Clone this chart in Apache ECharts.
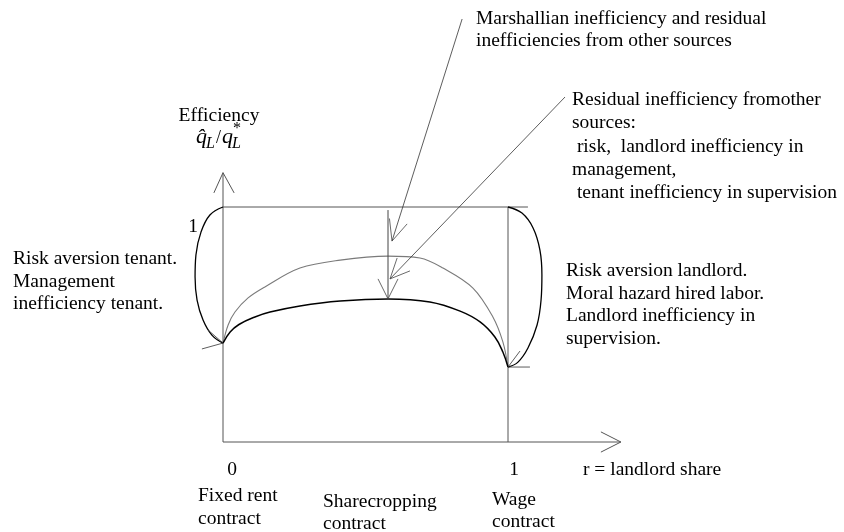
<!DOCTYPE html>
<html>
<head>
<meta charset="utf-8">
<script src="https://cdn.jsdelivr.net/npm/echarts@6/dist/echarts.min.js"></script>
<style>
  html, body { margin: 0; padding: 0; background: #fff; }
  #main { width: 844px; height: 532px; }
</style>
</head>
<body>
<div id="main"></div>
<script>
// r = landlord share (0..1), e = efficiency q^L/q*L (0..1)
var lowerCurve = [[0, 0.421], [0.025, 0.468], [0.056, 0.5], [0.112, 0.532], [0.165, 0.553],
  [0.27, 0.579], [0.411, 0.6], [0.579, 0.609], [0.726, 0.596], [0.832, 0.557],
  [0.902, 0.511], [0.954, 0.447], [0.982, 0.383], [1, 0.319]];
var upperCurve = [[0, 0.421], [0.018, 0.498], [0.042, 0.553], [0.088, 0.613], [0.147, 0.66],
  [0.27, 0.74], [0.411, 0.774], [0.579, 0.791], [0.691, 0.783], [0.772, 0.74],
  [0.877, 0.655], [0.947, 0.532], [0.982, 0.426], [1, 0.319]];
// curved arrows from the "1" line down to the curve ends
var leftArc = [[0, 1], [-0.046, 0.966], [-0.077, 0.894], [-0.095, 0.796], [-0.098, 0.702],
  [-0.091, 0.604], [-0.07, 0.519], [-0.039, 0.455], [0, 0.421]];
var leftArcHead = [[-0.074, 0.396], [0, 0.421], [-0.053, 0.477]];
var rightArc = [[1, 1], [1.049, 0.974], [1.088, 0.911], [1.112, 0.817], [1.119, 0.711],
  [1.116, 0.604], [1.102, 0.498], [1.07, 0.4], [1.035, 0.34], [1, 0.319]];
var rightArcHead = [[1.077, 0.319], [1, 0.319], [1.042, 0.387]];
// pointer arrows
var gapArrow = [[0.579, 0.987], [0.579, 0.609]];
var gapArrowHead = [[0.544, 0.694], [0.579, 0.609], [0.614, 0.694]];
var marshallArrow = [[0.839, 1.8], [0.593, 0.855]];
var marshallArrowHead = [[0.646, 0.928], [0.593, 0.855], [0.584, 0.951]];
var residualArrow = [[1.2, 1.468], [0.586, 0.694]];
var residualArrowHead = [[0.656, 0.728], [0.586, 0.694], [0.611, 0.783]];
// axes and frame
var xAxisLine = [[0, 0], [1.396, 0]];
var xAxisHead = [[1.326, 0.043], [1.396, 0], [1.326, -0.043]];
var yAxisLine = [[0, 0], [0, 1.146]];
var yAxisHead = [[-0.032, 1.06], [0, 1.146], [0.039, 1.06]];
var topLine = [[0, 1], [1.07, 1]];
var rightLine = [[1, 0], [1, 1]];

var serif = "'Liberation Serif', 'Times New Roman', serif";

function line(data, color, width, smooth) {
  return {
    type: "line",
    data: data,
    symbol: "none",
    clip: false,
    silent: true,
    smooth: smooth || false,
    lineStyle: { color: color, width: width },
  };
}

// text placed by its first baseline
function txt(str, x, base, size, opts) {
  opts = opts || {};
  var lh = opts.lh || size * 1.15;
  return {
    type: "text",
    x: x,
    y: base - lh / 2 - 0.3 * size,
    silent: true,
    style: {
      text: str,
      font: (opts.italic ? "italic " : "") + size + "px " + serif,
      fill: "#000",
      lineHeight: lh,
      align: opts.align || "left",
      verticalAlign: "top",
    },
  };
}

var chartDom = echarts.init(document.getElementById("main"));
var fs = 19.5;
// 1 unit of r = 285px, 1 unit of e = 235px; r=0 at x 223, e=0 at y 442
var option = {
  animation: false,
  backgroundColor: "#fff",
  grid: { left: 188.8, top: 7.25, width: 433.2, height: 446.5 },
  xAxis: { type: "value", min: -0.12, max: 1.4, show: false },
  yAxis: { type: "value", min: -0.05, max: 1.85, show: false },
  series: [
    line(xAxisLine, "#555", 1),
    line(xAxisHead, "#555", 1),
    line(yAxisLine, "#555", 1),
    line(yAxisHead, "#555", 1),
    line(topLine, "#555", 1),
    line(rightLine, "#555", 1),
    line(upperCurve, "#7a7a7a", 1.1, 0.35),
    line(lowerCurve, "#000", 1.5, 0.4),
    line(leftArc, "#000", 1.3, 0.4),
    line(leftArcHead, "#333", 0.8),
    line(rightArc, "#000", 1.3, 0.4),
    line(rightArcHead, "#333", 0.8),
    line(gapArrow, "#444", 1),
    line(gapArrowHead, "#444", 0.8),
    line(marshallArrow, "#333", 0.8),
    line(marshallArrowHead, "#444", 0.8),
    line(residualArrow, "#333", 0.8),
    line(residualArrowHead, "#444", 0.8),
  ],
  graphic: [
    txt("Marshallian inefficiency and residual\ninefficiencies from other sources", 476, 25, fs, { lh: 22 }),
    txt("Residual inefficiency fromother\nsources:\n risk,  landlord inefficiency in\nmanagement,\n tenant inefficiency in supervision", 572, 106, fs, { lh: 23.2 }),
    txt("Efficiency", 219, 122, fs, { align: "center" }),
    txt("q\u0302", 196, 144, 22, { italic: true }),
    txt("L", 206, 149, 16, { italic: true }),
    txt("/", 216, 144, 18),
    txt("q", 222, 144, 22, { italic: true }),
    txt("*", 233, 134, 16),
    txt("L", 232, 149, 16, { italic: true }),
    txt("1", 193, 233, fs, { align: "center" }),
    txt("Risk aversion tenant.\nManagement\ninefficiency tenant.", 13, 265, fs, { lh: 22.5 }),
    txt("Risk aversion landlord.\nMoral hazard hired labor.\nLandlord inefficiency in\nsupervision.", 566, 277, fs, { lh: 22.5 }),
    txt("0", 232, 476, fs, { align: "center" }),
    txt("1", 514, 476, fs, { align: "center" }),
    txt("r = landlord share", 583, 476, fs),
    txt("Fixed rent\ncontract", 198, 502, fs, { lh: 23 }),
    txt("Sharecropping\ncontract", 323, 508, fs, { lh: 22 }),
    txt("Wage\ncontract", 492, 506, fs, { lh: 22 }),
  ],
};
chartDom.setOption(option);
</script>
</body>
</html>
